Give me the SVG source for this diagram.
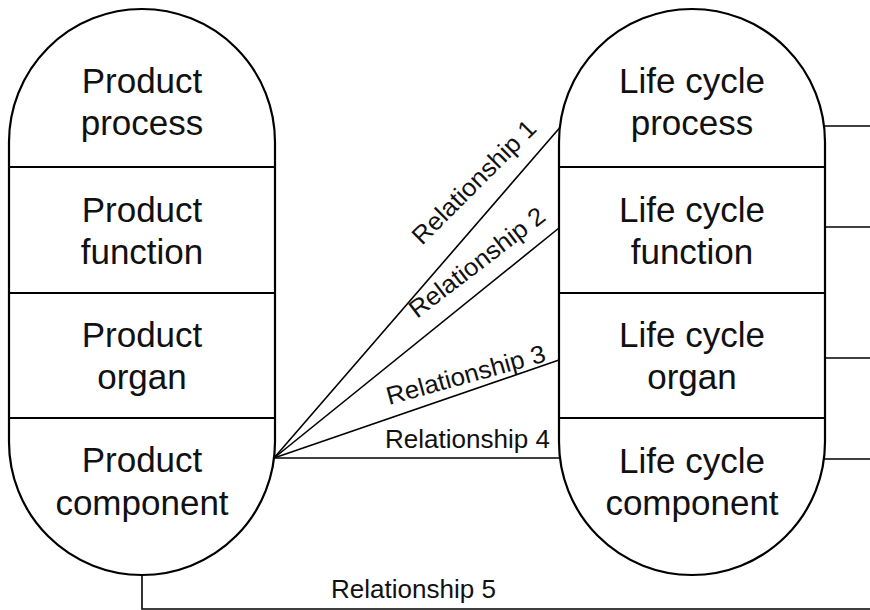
<svg xmlns="http://www.w3.org/2000/svg" width="870" height="610" viewBox="0 0 870 610">
  <style>
    .shape { fill: #ffffff; stroke: #000; stroke-width: 2.2; }
    .divider { stroke: #000; stroke-width: 2; }
    .link { stroke: #000; stroke-width: 1.6; fill: none; }
    .node-text { font-family: "Liberation Sans", Arial, sans-serif; font-size: 35px; fill: #111; text-anchor: middle; }
    .label { font-family: "Liberation Sans", Arial, sans-serif; font-size: 25px; fill: #111; }
  </style>
  <rect width="870" height="610" fill="#ffffff"/>

  <!-- connectors -->
  <g id="connectors">
    <!-- fan from product component to life cycle levels -->
    <line class="link" x1="274" y1="458" x2="559.5" y2="128"/>
    <line class="link" x1="274" y1="458" x2="559" y2="228"/>
    <line class="link" x1="274" y1="458" x2="559" y2="360"/>
    <line class="link" x1="274" y1="458" x2="560" y2="458"/>
    <!-- outgoing lines on the right -->
    <line class="link" x1="824" y1="126" x2="870" y2="126"/>
    <line class="link" x1="825" y1="227" x2="870" y2="227"/>
    <line class="link" x1="825" y1="358" x2="870" y2="358"/>
    <line class="link" x1="824" y1="459" x2="870" y2="459"/>
    <!-- bottom return line -->
    <polyline class="link" points="142,575 142,609 870,609"/>

    <text class="label" transform="translate(422,246) rotate(-45)" textLength="164" lengthAdjust="spacingAndGlyphs">Relationship 1</text>
    <text class="label" transform="translate(417,319) rotate(-37.5)" textLength="164" lengthAdjust="spacingAndGlyphs">Relationship 2</text>
    <text class="label" transform="translate(389,405) rotate(-15.5)" textLength="164" lengthAdjust="spacingAndGlyphs">Relationship 3</text>
    <text class="label" x="385" y="448" textLength="165" lengthAdjust="spacingAndGlyphs">Relationship 4</text>
    <text class="label" x="331" y="598" textLength="165" lengthAdjust="spacingAndGlyphs">Relationship 5</text>
  </g>

  <!-- product stack -->
  <g id="product">
    <path class="shape" d="M9,142 A133,133 0 0 1 275,142 V442 A133,133 0 0 1 9,442 Z"/>
    <line class="divider" x1="9" y1="167" x2="275" y2="167"/>
    <line class="divider" x1="9" y1="293" x2="275" y2="293"/>
    <line class="divider" x1="9" y1="418" x2="275" y2="418"/>
  </g>
  <g id="product-process">
    <text class="node-text" x="142" y="93">Product</text>
    <text class="node-text" x="142" y="135">process</text>
  </g>
  <g id="product-function">
    <text class="node-text" x="142" y="222">Product</text>
    <text class="node-text" x="142" y="264">function</text>
  </g>
  <g id="product-organ">
    <text class="node-text" x="142" y="347">Product</text>
    <text class="node-text" x="142" y="389">organ</text>
  </g>
  <g id="product-component">
    <text class="node-text" x="142" y="472">Product</text>
    <text class="node-text" x="142" y="515">component</text>
  </g>

  <!-- life cycle stack -->
  <g id="lifecycle">
    <path class="shape" d="M559,142 A133,133 0 0 1 825,142 V442 A133,133 0 0 1 559,442 Z"/>
    <line class="divider" x1="559" y1="167" x2="825" y2="167"/>
    <line class="divider" x1="559" y1="293" x2="825" y2="293"/>
    <line class="divider" x1="559" y1="418" x2="825" y2="418"/>
  </g>
  <g id="lifecycle-process">
    <text class="node-text" x="692" y="93">Life cycle</text>
    <text class="node-text" x="692" y="135">process</text>
  </g>
  <g id="lifecycle-function">
    <text class="node-text" x="692" y="222">Life cycle</text>
    <text class="node-text" x="692" y="264">function</text>
  </g>
  <g id="lifecycle-organ">
    <text class="node-text" x="692" y="347">Life cycle</text>
    <text class="node-text" x="692" y="389">organ</text>
  </g>
  <g id="lifecycle-component">
    <text class="node-text" x="692" y="473">Life cycle</text>
    <text class="node-text" x="692" y="515">component</text>
  </g>
</svg>
